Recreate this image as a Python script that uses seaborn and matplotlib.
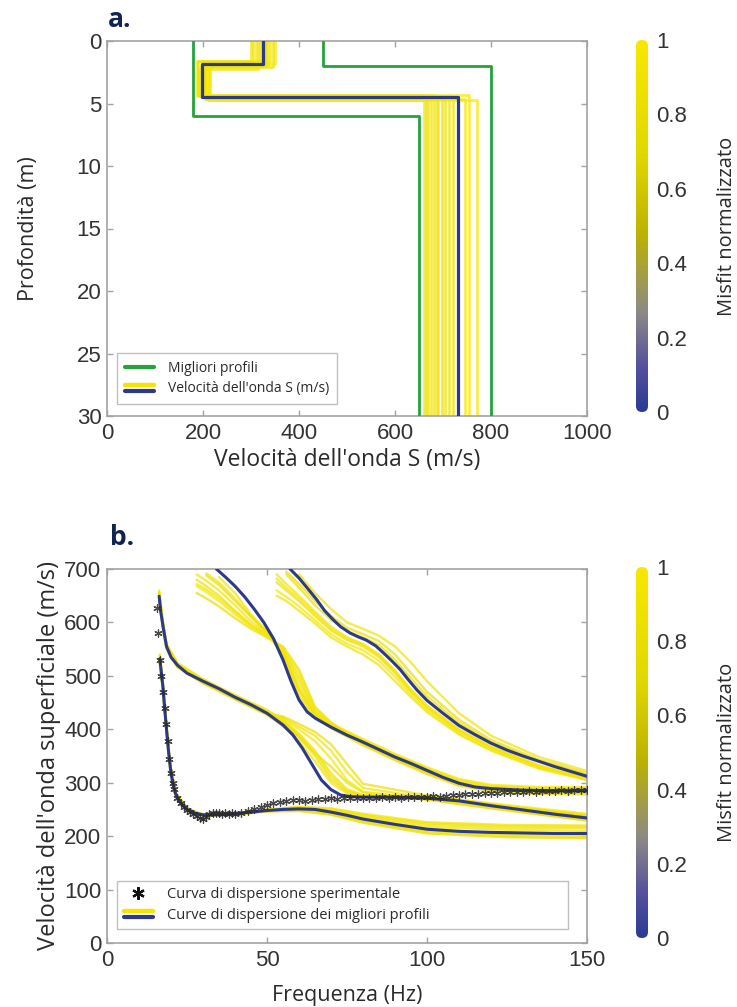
import numpy as np
import pandas as pd
import matplotlib
matplotlib.use("Agg")
import matplotlib.pyplot as plt
import seaborn as sns
from matplotlib.colors import LinearSegmentedColormap, Normalize
from matplotlib.cm import ScalarMappable
from matplotlib.lines import Line2D
from matplotlib.legend_handler import HandlerBase
from matplotlib.patches import FancyBboxPatch

nan = np.nan

# ---------------- Panel a: Vs profiles ----------------
best_vs = [325, 198, 732]
best_depth = [1.8, 4.5]
bound_low_vs = [180, 650]
bound_low_depth = [6.0]
bound_high_vs = [450, 800]
bound_high_depth = [2.0]
max_depth = 30

yel_vs1 = [310, 318, 325, 330, 335, 345, 300, 315, 322, 340, 328, 350, 332, 305]
yel_d1 = [1.8, 1.7, 2.0, 1.6, 1.9, 2.1, 1.8, 2.2, 1.9, 1.7, 2.0, 1.8, 1.9, 1.6]
yel_vs2 = [195, 200, 205, 190, 210, 198, 215, 192, 202, 207, 196, 212, 204, 188]
yel_d2 = [4.4, 4.5, 4.6, 4.3, 4.7, 4.5, 4.6, 4.4, 4.5, 4.6, 4.3, 4.7, 4.5, 4.4]
yel_vs3 = [660, 668, 675, 682, 690, 698, 705, 712, 720, 745, 755, 770, 688, 665]
yel_misfit = [0.95, 0.9, 0.92, 0.88, 0.97, 0.85, 0.93, 0.9, 0.87, 0.98, 0.99, 1.0, 0.86, 0.9]

# ---------------- Panel b: dispersion curves ----------------
exp_f = [15.5, 16, 16.5, 17, 17.5, 18, 18.5, 19, 19.5, 20, 20.5, 21, 22, 23, 24, 25, 26, 27,
         28, 29, 30, 31, 32, 33, 34, 35, 36, 37, 38, 39, 40, 42, 44, 46, 48, 50, 52, 54, 56,
         58, 60, 62, 64, 66, 68, 70, 72, 74, 76, 78, 80, 82, 84, 86, 88, 90, 92, 94, 96, 98,
         100, 102, 104, 106, 108, 110, 112, 114, 116, 118, 120, 122, 124, 126, 128, 130, 132,
         134, 136, 138, 140, 142, 144, 146, 148, 150]
exp_v = [627, 580, 530, 500, 470, 440, 410, 378, 345, 318, 300, 288, 272, 262, 254, 249, 245,
         242, 238, 234, 232, 236, 241, 244, 243, 244, 242, 243, 241, 243, 242, 244, 247, 250,
         255, 258, 262, 264, 265, 267, 268, 266, 268, 269, 270, 271, 270, 271, 272, 271, 272,
         272, 271, 273, 272, 273, 272, 273, 274, 273, 274, 275, 274, 276, 277, 277, 278, 279,
         279, 280, 281, 280, 282, 282, 283, 283, 284, 283, 285, 285, 285, 286, 285, 286, 286, 286]

# best-profile modes (blue)
m0_f = [16.5, 17, 17.5, 18, 18.6, 19.2, 19.8, 20.5, 21.5, 23, 25, 27.5, 30, 35, 40, 45, 50, 55,
        60, 65, 70, 75, 80, 90, 100, 110, 120, 130, 140, 150]
m0_v = [532, 505, 478, 440, 400, 360, 328, 300, 278, 262, 250, 243, 240, 240, 242, 245, 248, 250,
        251, 250, 245, 239, 232, 222, 213, 209, 207, 206, 205, 205]
m1_f = [16.3, 16.8, 17.5, 18.6, 20, 22, 25, 30, 35, 40, 45, 50, 55, 58, 61, 64, 67, 70, 73, 76,
        80, 90, 100, 110, 120, 130, 140, 150]
m1_v = [649, 620, 593, 555, 535, 520, 505, 490, 476, 460, 446, 430, 408, 390, 365, 335, 305, 287,
        277, 274, 273, 273, 271, 266, 257, 249, 241, 234]
m2_f = [34.2, 37, 40, 43, 46, 49, 52, 55, 57.5, 60, 62.5, 65, 70, 75, 80, 85, 90, 95, 100,
        105, 110, 115, 120, 130, 140, 150]
m2_v = [700, 685, 668, 648, 625, 600, 570, 530, 490, 455, 433, 421, 404, 389, 376, 362, 348, 336,
        323, 310, 299, 292, 289, 286, 285, 285]
m3_f = [57.2, 60, 62.5, 65.5, 68, 70.7, 73, 76, 78.5, 81, 84, 86.4, 89, 91.6, 94, 96.8, 100, 105,
        110, 115, 120, 125, 130, 140, 150]
m3_v = [700, 683, 665, 643, 622, 605, 592, 580, 573, 567, 556, 543, 528, 512, 494, 474, 454, 430,
        407, 390, 374, 361, 350, 330, 312]

# near-best curves (yellow)
y0_f = [16.5, 17.5, 18.6, 19.8, 21.5, 25, 30, 40, 50, 60, 70, 80, 100, 125, 150]
y0_curves = [
    [540, 484, 405, 332, 281, 252, 241, 243, 250, 255, 252, 242, 226, 221, 220],
    [536, 481, 403, 330, 280, 251, 240, 242, 249, 253, 249, 238, 221, 216, 215],
    [528, 475, 397, 326, 277, 249, 239, 241, 247, 249, 243, 229, 209, 203, 201],
    [524, 472, 395, 324, 276, 248, 238, 240, 246, 247, 240, 225, 205, 198, 196],
    [534, 479, 401, 329, 279, 251, 240, 242, 248, 252, 247, 235, 217, 212, 210],
    [526, 474, 396, 325, 277, 249, 239, 241, 247, 248, 241, 227, 207, 200, 198],
    [538, 483, 404, 331, 280, 251, 240, 242, 249, 254, 251, 240, 224, 219, 218],
    [530, 476, 398, 327, 277, 249, 239, 241, 247, 250, 244, 231, 211, 205, 203],
]
y1_f = [16.3, 17.5, 18.6, 22, 30, 40, 50, 55, 60, 65, 70, 75, 80, 100, 125, 150]
y1_curves = [
    [660, 600, 560, 524, 494, 464, 436, 418, 392, 360, 318, 288, 277, 274, 256, 240],
    [655, 597, 558, 522, 492, 462, 434, 414, 386, 350, 306, 283, 275, 273, 254, 238],
    [652, 595, 556, 521, 491, 461, 432, 420, 400, 378, 345, 305, 283, 270, 250, 231],
    [645, 590, 552, 518, 488, 458, 428, 412, 385, 355, 330, 300, 282, 268, 248, 229],
    [650, 594, 555, 519, 489, 459, 431, 422, 405, 388, 360, 320, 290, 272, 254, 236],
    [642, 588, 550, 516, 486, 456, 427, 406, 378, 340, 300, 280, 274, 269, 249, 230],
    [657, 598, 559, 523, 493, 463, 435, 416, 390, 356, 312, 286, 276, 275, 258, 242],
    [648, 592, 553, 517, 487, 457, 429, 424, 410, 395, 372, 335, 298, 276, 256, 238],
]
y2_f = [28, 31, 35, 40, 45, 50, 55, 60, 65, 70, 80, 90, 100, 110, 120, 135, 150]
y2_curves = [
    [690, 678, 660, 632, 602, 578, 545, 480, 428, 407, 378, 350, 325, 302, 292, 288, 288],
    [680, 668, 650, 622, 596, 576, 548, 490, 432, 409, 380, 352, 327, 305, 294, 290, 290],
    [668, 657, 640, 615, 592, 574, 552, 505, 438, 411, 382, 354, 329, 307, 296, 292, 292],
    [655, 645, 630, 608, 588, 572, 555, 512, 442, 413, 372, 344, 318, 296, 286, 281, 280],
    [nan, 692, 675, 645, 612, 582, 540, 470, 425, 405, 375, 346, 321, 298, 288, 283, 282],
    [nan, nan, 685, 655, 615, 584, 535, 462, 422, 402, 370, 342, 316, 294, 284, 279, 278],
    [672, 662, 645, 620, 594, 575, 550, 498, 435, 410, 377, 348, 323, 300, 290, 286, 285],
    [nan, 688, 670, 640, 610, 580, 542, 475, 427, 406, 374, 345, 320, 297, 287, 283, 283],
]
y3_f = [53, 56, 60, 65, 70, 75, 80, 85, 90, 95, 100, 110, 120, 135, 150]
y3_curves = [
    [690, 672, 650, 620, 592, 572, 560, 540, 510, 475, 445, 400, 368, 333, 309],
    [675, 660, 640, 612, 585, 567, 555, 535, 505, 470, 440, 396, 365, 330, 307],
    [660, 648, 630, 604, 578, 560, 548, 528, 498, 465, 436, 392, 362, 328, 306],
    [nan, 695, 672, 640, 612, 590, 578, 565, 540, 505, 470, 418, 380, 343, 318],
    [nan, nan, 690, 655, 625, 600, 588, 575, 555, 525, 490, 430, 388, 348, 322],
    [650, 640, 622, 598, 572, 555, 540, 520, 490, 460, 432, 390, 360, 326, 305],
    [682, 665, 645, 616, 588, 570, 558, 538, 508, 472, 442, 398, 366, 331, 308],
    [nan, 690, 665, 632, 605, 584, 572, 558, 530, 495, 462, 412, 376, 340, 315],
]
yellow_misfit = [0.92, 0.85, 0.97, 0.8, 0.9, 0.88, 0.95, 0.83]

cbar_ticks = [0, 0.2, 0.4, 0.6, 0.8, 1]
cbar_ticklabels = ["0", "0.2", "0.4", "0.6", "0.8", "1"]

# ---------------- styling ----------------
sns.set_theme(style="white")
plt.rcParams['font.family'] = ['Liberation Sans', 'DejaVu Sans']
LABEL_FONT = ['Open Sans', 'DejaVu Sans']
BLUE = '#2d3a8c'
GREEN = '#25a23a'
SPINE = '#a3a3a3'
TXT = '#2a2a2a'
NAVY = '#0f2452'
TICKSIZE = 16

cmap = LinearSegmentedColormap.from_list(
    'misfit', [(0, '#2b3a94'), (0.12, '#55509c'), (0.27, '#8c8a84'),
               (0.48, '#bdb200'), (0.7, '#e2d800'), (1, '#f7e800')])


def step_profile(vs, depths, pid, misfit=None):
    d = [0]
    v = [vs[0]]
    for i, z in enumerate(depths):
        d += [z, z]
        v += [vs[i], vs[i + 1]]
    d.append(max_depth)
    v.append(vs[-1])
    return pd.DataFrame({'vs': v, 'depth': d, 'pid': pid, 'misfit': misfit})


fig = plt.figure(figsize=(7.37, 10.07), dpi=100)
W, H = 737, 1007
axA = fig.add_axes([107 / W, 1 - 416 / H, 480 / W, 375 / H])
axB = fig.add_axes([107 / W, 1 - 943 / H, 480 / W, 374 / H])

# ---- panel a ----
yel_frames = [step_profile([a, b, c], [d1, d2], i, m)
              for i, (a, b, c, d1, d2, m) in enumerate(zip(yel_vs1, yel_vs2, yel_vs3,
                                                            yel_d1, yel_d2, yel_misfit))]
dfy = pd.concat(yel_frames, ignore_index=True)
sns.lineplot(data=dfy, x='vs', y='depth', units='pid', estimator=None, sort=False,
             hue='misfit', palette=cmap, hue_norm=(0, 1), lw=1.9, alpha=0.75,
             legend=False, ax=axA, zorder=2)
for vs, dep in [(bound_low_vs, bound_low_depth), (bound_high_vs, bound_high_depth)]:
    dfg = step_profile(vs, dep, 0)
    sns.lineplot(data=dfg, x='vs', y='depth', estimator=None, sort=False, color=GREEN,
                 lw=2.0, ax=axA, zorder=3)
dfb = step_profile(best_vs, best_depth, 0)
sns.lineplot(data=dfb, x='vs', y='depth', estimator=None, sort=False, color=BLUE,
             lw=2.3, ax=axA, zorder=4)
axA.set_xlim(0, 1000)
axA.set_ylim(30, 0)
axA.set_xticks([0, 200, 400, 600, 800, 1000])
axA.set_yticks([0, 5, 10, 15, 20, 25, 30])

# ---- panel b ----
rows = []
for m, (fg, curves) in enumerate([(y0_f, y0_curves), (y1_f, y1_curves),
                                   (y2_f, y2_curves), (y3_f, y3_curves)]):
    for k, (c, mf) in enumerate(zip(curves, yellow_misfit)):
        for fi, vi in zip(fg, c):
            if not np.isnan(vi):
                rows.append(dict(f=fi, v=vi, uid=f"{m}-{k}", misfit=mf))
dfyb = pd.DataFrame(rows)
sns.lineplot(data=dfyb, x='f', y='v', units='uid', estimator=None, sort=False,
             hue='misfit', palette=cmap, hue_norm=(0, 1), lw=1.7, alpha=0.7,
             legend=False, ax=axB, zorder=2)
for fx, vx in [(m0_f, m0_v), (m1_f, m1_v), (m2_f, m2_v), (m3_f, m3_v)]:
    sns.lineplot(x=fx, y=vx, estimator=None, sort=False, color=BLUE, lw=2.2, ax=axB, zorder=4)
sns.scatterplot(x=exp_f, y=exp_v, marker=(6, 2, 0), s=28, color='#2a2a2a', linewidth=0.9,
                alpha=0.85, ax=axB, zorder=5, legend=False)
axB.set_xlim(0, 150)
axB.set_ylim(0, 700)
axB.set_xticks([0, 50, 100, 150])
axB.set_yticks(range(0, 701, 100))

# ---- common axes styling ----
for ax in (axA, axB):
    for s in ax.spines.values():
        s.set_color(SPINE)
        s.set_linewidth(1.2)
        s.set_visible(True)
    ax.tick_params(direction='in', length=4, width=1, color=SPINE, labelcolor='#333333',
                   labelsize=TICKSIZE, top=True, right=True, bottom=True, left=True)
    ax.tick_params(axis='x', pad=5)
    ax.tick_params(axis='y', pad=4)
    ax.set_facecolor('white')

axA.set_xlabel("Velocità dell'onda S (m/s)", family=LABEL_FONT, fontsize=16.5, color=TXT,
               labelpad=3)
axA.set_ylabel("Profondità (m)", family=LABEL_FONT, fontsize=15.5, color=TXT, labelpad=27)
axB.set_xlabel("Frequenza (Hz)", family=LABEL_FONT, fontsize=15.5, color=TXT, labelpad=10)
axB.set_ylabel("Velocità dell'onda superficiale (m/s)", family=LABEL_FONT, fontsize=17,
               color=TXT, labelpad=2)

fig.text(108 / W, 1 - 27 / H, "a.", family=LABEL_FONT, fontsize=19, fontweight='bold',
         color=NAVY)
fig.text(110 / W, 1 - 545 / H, "b.", family=LABEL_FONT, fontsize=19, fontweight='bold',
         color=NAVY)


# ---- legends ----
class DoubleHandle:
    pass


class DoubleLineHandler(HandlerBase):
    def create_artists(self, legend, orig_handle, xdescent, ydescent, width, height,
                       fontsize, trans):
        x0, x1 = -xdescent, width - xdescent
        top = Line2D([x0, x1], [0.72 * height - ydescent] * 2, color='#f5e400', lw=3.2)
        bot = Line2D([x0, x1], [0.12 * height - ydescent] * 2, color=BLUE, lw=3.0)
        top.set_transform(trans)
        bot.set_transform(trans)
        return [top, bot]


legA = axA.legend([Line2D([], [], color=GREEN, lw=3), DoubleHandle()],
                  ["Migliori profili", "Velocità dell'onda S (m/s)"],
                  handler_map={DoubleHandle: DoubleLineHandler()},
                  loc='lower left', bbox_to_anchor=(0.021, 0.032), borderaxespad=0,
                  prop={'family': LABEL_FONT, 'size': 10}, frameon=True, fancybox=False,
                  edgecolor='#c0c0c0', framealpha=1, handlelength=2.1, handletextpad=1.0,
                  borderpad=0.55, labelspacing=0.4)
legA.get_frame().set_linewidth(1.0)
for t in legA.get_texts():
    t.set_color(TXT)

legB = axB.legend([Line2D([], [], color='#111111', marker=(6, 2, 0), markersize=9,
                          mew=1.6, ls='none'), DoubleHandle()],
                  ["Curva di dispersione sperimentale",
                   "Curve di dispersione dei migliori profili"],
                  handler_map={DoubleHandle: DoubleLineHandler()},
                  loc='lower left', bbox_to_anchor=(0.021, 0.037, 0.94, 0.1), mode='expand',
                  borderaxespad=0, prop={'family': LABEL_FONT, 'size': 10.5}, frameon=True,
                  fancybox=False, edgecolor='#c0c0c0', framealpha=1, handlelength=2.0,
                  handletextpad=1.0, borderpad=0.45, labelspacing=0.35)
legB.get_frame().set_linewidth(1.0)
for t in legB.get_texts():
    t.set_color(TXT)


# ---- colorbars ----
def add_cbar(top_px, bottom_px):
    cax = fig.add_axes([636 / W, 1 - bottom_px / H, 12 / W, (bottom_px - top_px) / H])
    sm = ScalarMappable(norm=Normalize(0, 1), cmap=cmap)
    cb = fig.colorbar(sm, cax=cax)
    cb.outline.set_visible(False)
    hpx = bottom_px - top_px
    clip = FancyBboxPatch((0, 0), 1, 1, boxstyle="round,pad=0,rounding_size=0.5",
                          mutation_aspect=12 / hpx, transform=cax.transAxes)
    cb.solids.set_clip_path(clip)
    cb.set_ticks(cbar_ticks)
    cb.set_ticklabels(cbar_ticklabels)
    cax.tick_params(length=0, labelsize=TICKSIZE, pad=6, labelcolor='#333333')
    fig.text(727 / W, 1 - (top_px + bottom_px) / 2 / H, "Misfit normalizzato",
             rotation=90, ha='center', va='center', family=LABEL_FONT, fontsize=14.5,
             color=TXT)
    return cb


add_cbar(40, 412)
add_cbar(567, 938)

fig.savefig("out.png", dpi=100)
